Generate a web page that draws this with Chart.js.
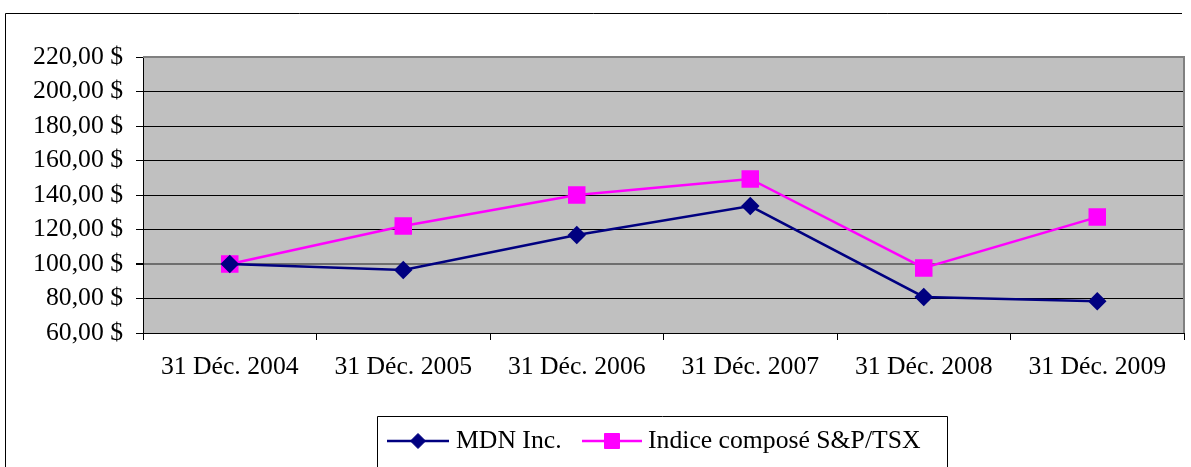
<!DOCTYPE html>
<html>
<head>
<meta charset="utf-8">
<script src="https://cdn.jsdelivr.net/npm/chart.js@4/dist/chart.umd.min.js"></script>
<style>
  html, body { margin: 0; padding: 0; background: #fff; }
  #wrap { width: 1191px; height: 467px; position: relative; }
</style>
</head>
<body>
<div id="wrap"><canvas id="c" width="1191" height="467"></canvas></div>
<script>
const categories = ['31 Déc. 2004', '31 Déc. 2005', '31 Déc. 2006', '31 Déc. 2007', '31 Déc. 2008', '31 Déc. 2009'];
const mdnValues = [100, 96.5, 116.8, 133.6, 80.9, 78.4];
const tsxValues = [100, 122, 140, 149.3, 97.7, 127.2];
const seriesNames = ['MDN Inc.', 'Indice composé S&P/TSX'];
const yTicks = [60, 80, 100, 120, 140, 160, 180, 200, 220];
const yTickLabels = ['60,00 $', '80,00 $', '100,00 $', '120,00 $', '140,00 $', '160,00 $', '180,00 $', '200,00 $', '220,00 $'];

const FONT = 'Liberation Serif, "Times New Roman", serif';
const FSIZE = 25.7;

const framePlugin = {
  id: 'frame',
  beforeDraw(chart) {
    const ctx = chart.ctx;
    const a = chart.chartArea;
    ctx.save();
    ctx.fillStyle = '#ffffff';
    ctx.fillRect(0, 0, chart.width, chart.height);
    ctx.strokeStyle = '#000000';
    ctx.lineWidth = 1;
    ctx.beginPath();
    ctx.moveTo(5.5, 467);
    ctx.lineTo(5.5, 13.5);
    ctx.lineTo(1182, 13.5);
    ctx.stroke();
    ctx.fillStyle = '#c0c0c0';
    ctx.fillRect(a.left, a.top, a.right - a.left, a.bottom - a.top);
    ctx.restore();
  },
  beforeDatasetsDraw(chart) {
    const ctx = chart.ctx;
    const a = chart.chartArea;
    ctx.save();
    ctx.strokeStyle = '#808080';
    ctx.lineWidth = 2;
    ctx.beginPath();
    ctx.moveTo(a.left, a.top);
    ctx.lineTo(a.right, a.top);
    ctx.lineTo(a.right, a.bottom);
    ctx.stroke();
    ctx.restore();
  },
  afterDraw(chart) {
    const ctx = chart.ctx;
    ctx.save();
    // clear the gap between axis labels and legend
    ctx.fillStyle = '#ffffff';
    ctx.fillRect(143, 392, chart.width - 143, 23);
    ctx.strokeStyle = '#000000';
    ctx.lineWidth = 1;
    ctx.beginPath();
    ctx.moveTo(377.5, 467);
    ctx.lineTo(377.5, 416.5);
    ctx.lineTo(947.5, 416.5);
    ctx.lineTo(947.5, 467);
    ctx.stroke();
    const items = [
      { x0: 387, x1: 449, tx: 456 },
      { x0: 582, x1: 642, tx: 648 }
    ];
    const y = 441;
    chart.data.datasets.forEach((ds, i) => {
      const it = items[i];
      ctx.strokeStyle = ds.borderColor;
      ctx.lineWidth = ds.borderWidth;
      ctx.beginPath();
      ctx.moveTo(it.x0, y);
      ctx.lineTo(it.x1, y);
      ctx.stroke();
      ctx.fillStyle = ds.pointBackgroundColor;
      ctx.strokeStyle = ds.pointBorderColor;
      ctx.lineWidth = 1;
      Chart.helpers.drawPoint(ctx, {
        pointStyle: ds.pointStyle,
        radius: ds.pointRadius,
        borderWidth: 1,
        rotation: 0
      }, (it.x0 + it.x1) / 2, y);
      ctx.fillStyle = '#000000';
      ctx.font = FSIZE + 'px ' + FONT;
      ctx.textBaseline = 'middle';
      ctx.textAlign = 'left';
      ctx.fillText(ds.label, it.tx, y);
    });
    ctx.restore();
  }
};

new Chart(document.getElementById('c'), {
  type: 'line',
  data: {
    labels: categories,
    datasets: [
      {
        label: seriesNames[0],
        data: mdnValues,
        borderColor: '#000080',
        backgroundColor: '#000080',
        pointBackgroundColor: '#000080',
        pointBorderColor: '#000080',
        borderWidth: 2.5,
        pointStyle: 'rectRot',
        pointRadius: 7.5,
        pointHoverRadius: 7.5,
        tension: 0
      },
      {
        label: seriesNames[1],
        data: tsxValues,
        borderColor: '#ff00ff',
        backgroundColor: '#ff00ff',
        pointBackgroundColor: '#ff00ff',
        pointBorderColor: '#ff00ff',
        borderWidth: 2.5,
        pointStyle: 'rect',
        pointRadius: 10.6,
        pointHoverRadius: 10.6,
        tension: 0
      }
    ]
  },
  options: {
    responsive: false,
    animation: false,
    devicePixelRatio: 1,
    layout: { autoPadding: false, padding: { top: 57, right: 7, left: 0, bottom: 0 } },
    plugins: {
      legend: { display: false },
      tooltip: { enabled: false },
      title: { display: false }
    },
    scales: {
      x: {
        type: 'category',
        offset: true,
        afterFit(s) { s.height = 134; s.paddingRight = 0; s.paddingLeft = 0; },
        border: { display: true, color: '#000000', width: 1 },
        grid: {
          display: true,
          offset: true,
          drawOnChartArea: false,
          drawTicks: true,
          tickLength: 7,
          tickColor: '#000000',
          color: '#000000'
        },
        ticks: {
          color: '#000000',
          font: { family: FONT, size: FSIZE },
          padding: 12,
          maxRotation: 0,
          autoSkip: false
        }
      },
      y: {
        min: 60,
        max: 220,
        afterFit(s) { s.width = 143; },
        afterBuildTicks(s) { s.ticks = yTicks.map(v => ({ value: v })); },
        border: { display: true, color: '#000000', width: 1 },
        grid: {
          color: (c) => (c.tick && c.tick.value === 100) ? '#6e6e6e' : '#000000',
          lineWidth: (c) => (c.tick && c.tick.value === 100) ? 2 : 1,
          tickColor: '#000000',
          tickLength: 7,
          drawTicks: true
        },
        ticks: {
          color: '#000000',
          font: { family: FONT, size: FSIZE },
          padding: 13,
          callback(v) { const i = yTicks.indexOf(v); return i >= 0 ? yTickLabels[i] : ''; }
        }
      }
    }
  },
  plugins: [framePlugin]
});
</script>
</body>
</html>
